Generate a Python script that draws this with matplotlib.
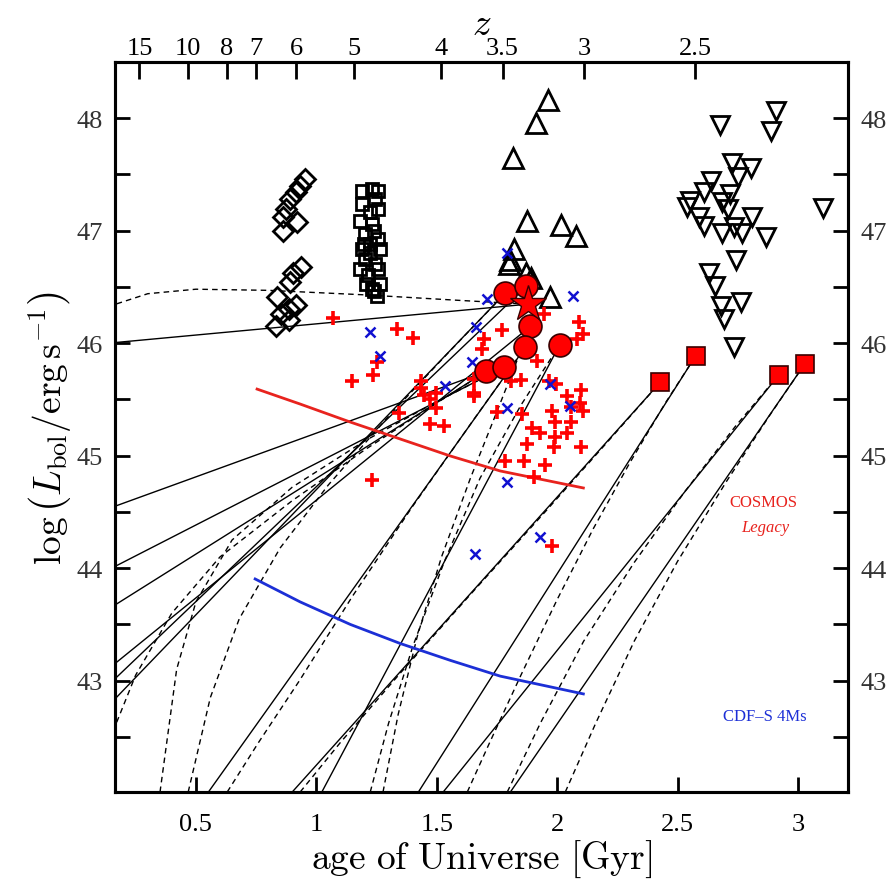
import numpy as np
import matplotlib
matplotlib.use("Agg")
import matplotlib.pyplot as plt
from matplotlib.ticker import FixedLocator, NullFormatter

plt.rcParams["font.family"] = ["Liberation Serif", "DejaVu Serif"]
plt.rcParams["mathtext.fontset"] = "cm"

# ---------------- data ----------------
# z ~ 6 quasars (open diamonds)
dia_age = [0.954, 0.933, 0.916, 0.892, 0.875, 0.862, 0.921, 0.862, 0.937, 0.904,
           0.892, 0.837, 0.916, 0.887, 0.854, 0.887, 0.833]
dia_L = [47.46, 47.40, 47.34, 47.28, 47.19, 47.12, 47.08, 47.00, 46.68, 46.62,
         46.54, 46.41, 46.34, 46.30, 46.26, 46.21, 46.15]

# z ~ 4.8 quasars (open squares)
sq_age = [1.191, 1.233, 1.258, 1.191, 1.245, 1.225, 1.258, 1.183, 1.233, 1.204,
          1.258, 1.191, 1.225, 1.266, 1.245, 1.183, 1.216, 1.266, 1.233, 1.250,
          1.204, 1.225, 1.241, 1.200, 1.258, 1.208, 1.241]
sq_L = [47.35, 47.37, 47.35, 47.24, 47.28, 47.17, 47.19, 47.09, 47.06, 46.97,
        46.93, 46.84, 46.80, 46.84, 46.70, 46.66, 46.61, 46.53, 46.48, 46.42,
        46.75, 46.88, 47.00, 46.88, 46.66, 46.53, 46.46]

# z ~ 3.3 quasars (open up-triangles)
tri_age = [1.964, 1.914, 1.817, 1.876, 2.017, 2.079, 1.822, 1.805, 1.800, 1.872,
           1.893, 1.972]
tri_L = [48.16, 47.955, 47.65, 47.085, 47.05, 46.95, 46.836, 46.74, 46.70, 46.62,
         46.58, 46.41]

# z ~ 2.4 quasars (open down-triangles)
itri_age = [2.907, 2.675, 2.889, 2.727, 2.806, 2.751, 2.637, 2.609, 2.720, 2.553,
            2.686, 2.540, 2.709, 2.589, 2.810, 2.609, 2.734, 2.686, 2.769, 2.866,
            3.106, 2.741, 2.630, 2.654, 2.679, 2.765, 2.692, 2.734]
itri_L = [48.065, 47.938, 47.887, 47.606, 47.556, 47.482, 47.443, 47.340, 47.325,
          47.265, 47.251, 47.207, 47.191, 47.118, 47.118, 47.043, 47.029, 46.984,
          46.978, 46.940, 47.198, 46.741, 46.623, 46.505, 46.333, 46.362, 46.214,
          45.963]

# COSMOS Legacy sources (red plus)
cl_age = [1.070, 1.234, 1.150, 1.254, 1.336, 1.403, 1.433, 1.436, 1.449, 1.474,
          1.498, 1.498, 1.474, 1.656, 1.655, 1.686, 1.695, 1.770, 1.947, 2.090,
          2.106, 2.083, 1.917, 1.810, 1.850, 1.965, 1.997, 2.042, 2.100, 2.097,
          1.855, 1.897, 1.978, 2.056, 2.107, 1.750, 1.990, 2.056, 1.930, 1.993,
          2.039, 1.875, 1.986, 2.099, 1.861, 1.951, 1.903, 1.785, 1.980, 1.654,
          1.532, 1.230, 1.345]
cl_L = [46.22, 45.72, 45.66, 45.83, 46.13, 46.05, 45.66, 45.60, 45.54, 45.50,
        45.42, 45.56, 45.28, 45.68, 45.53, 45.95, 46.04, 46.12, 46.26, 46.19,
        46.08, 46.04, 45.84, 45.66, 45.67, 45.66, 45.64, 45.53, 45.58, 45.47,
        45.37, 45.25, 45.40, 45.43, 45.40, 45.39, 45.30, 45.30, 45.20, 45.17,
        45.20, 45.10, 45.08, 45.08, 44.95, 44.92, 44.81, 44.95, 44.20, 45.56,
        45.26, 44.78, 45.38]

# CDF-S 4Ms sources (blue x)
cd_age = [1.224, 1.266, 1.536, 1.645, 1.663, 1.707, 1.790, 1.790, 1.972, 2.052,
          2.066, 1.790, 1.928, 1.660]
cd_L = [46.10, 45.89, 45.62, 45.83, 46.14, 46.39, 46.80, 45.42, 45.64, 45.44,
        46.42, 44.77, 44.28, 44.13]

# growth-track end points: circles, star and squares
circ_age = [1.785, 1.872, 1.889, 1.868, 2.010, 1.706, 1.778]
circ_L = [46.445, 46.505, 46.149, 45.963, 45.983, 45.749, 45.785]
star_age = [1.879]
star_L = [46.347]
rsq_age = [2.429, 2.575, 2.920, 3.028]
rsq_L = [45.654, 45.885, 45.716, 45.814]

# constant-rate growth tracks (solid): start point -> end point
solid_start_age = [0.171, 0.171, 0.171, 0.171, 0.171, 0.171, 0.171, 0.552, 1.023,
                   0.900, 1.424, 1.527, 1.806]
solid_start_L = [46.007, 44.556, 44.023, 43.682, 43.164, 43.031, 42.853, 42.01, 42.01,
                 42.01, 42.01, 42.01, 42.01]
solid_end_age = [1.879, 1.706, 1.778, 1.706, 1.889, 1.872, 1.785, 1.868, 2.010,
                 2.429, 2.575, 2.920, 3.028]
solid_end_L = [46.347, 45.749, 45.785, 45.749, 46.149, 46.505, 46.445, 45.963, 45.983,
               45.654, 45.885, 45.716, 45.814]

# alternative growth histories (dashed)
dashed_tracks = [
    ([0.171, 0.30, 0.50, 0.80, 1.20, 1.60, 1.879],
     [46.35, 46.44, 46.48, 46.47, 46.43, 46.38, 46.347]),
    ([0.171, 0.25, 0.40, 0.60, 0.90, 1.20, 1.45, 1.706],
     [42.63, 43.05, 43.60, 44.10, 44.60, 45.05, 45.40, 45.749]),
    ([0.351, 0.42, 0.50, 0.65, 0.90, 1.20, 1.50, 1.778],
     [42.01, 43.10, 43.70, 44.25, 44.72, 45.13, 45.48, 45.785]),
    ([0.468, 0.56, 0.68, 0.85, 1.05, 1.30, 1.55, 1.785],
     [42.01, 42.85, 43.55, 44.18, 44.74, 45.35, 45.92, 46.445]),
    ([0.630, 0.76, 0.93, 1.15, 1.40, 1.65, 1.868],
     [42.01, 42.45, 43.00, 43.75, 44.55, 45.31, 45.963]),
    ([1.277, 1.34, 1.42, 1.52, 1.64, 1.77, 1.889],
     [42.01, 42.70, 43.40, 44.10, 44.80, 45.50, 46.149]),
    ([1.224, 1.30, 1.40, 1.53, 1.68, 1.85, 2.010],
     [42.01, 42.62, 43.30, 44.05, 44.80, 45.45, 45.983]),
    ([0.933, 1.10, 1.35, 1.65, 1.95, 2.20, 2.429],
     [42.01, 42.45, 43.07, 43.79, 44.50, 45.10, 45.654]),
    ([1.627, 1.72, 1.85, 2.00, 2.15, 2.30, 2.45, 2.575],
     [42.01, 42.45, 43.05, 43.72, 44.35, 44.93, 45.47, 45.885]),
    ([1.793, 1.93, 2.11, 2.32, 2.53, 2.74, 2.920],
     [42.01, 42.62, 43.35, 44.05, 44.68, 45.26, 45.716]),
    ([2.034, 2.16, 2.32, 2.50, 2.70, 2.88, 3.028],
     [42.01, 42.62, 43.35, 44.06, 44.76, 45.35, 45.814]),
]

# survey flux limits
cosmos_age = [0.754, 0.933, 1.141, 1.349, 1.557, 1.764, 2.109]
cosmos_L = [45.592, 45.459, 45.299, 45.148, 44.997, 44.864, 44.713]
cdfs_age = [0.746, 0.933, 1.141, 1.349, 1.557, 1.764, 2.109]
cdfs_L = [43.904, 43.700, 43.500, 43.330, 43.180, 43.040, 42.882]

x_ticks = [0.5, 1, 1.5, 2, 2.5, 3]
y_ticks = [43, 44, 45, 46, 47, 48]
y_minor = [42.5, 43.5, 44.5, 45.5, 46.5, 47.5]
z_ticks = [15, 10, 8, 7, 6, 5, 4, 3.5, 3, 2.5]


def age_of_universe(z, h0=70.0, om=0.3):
    """Age (Gyr) of a flat LCDM universe at redshift z."""
    ol = 1.0 - om
    th = 977.8 / h0
    return (2.0 / (3.0 * np.sqrt(ol))) * th * np.arcsinh(
        np.sqrt(ol / om) * (1.0 + np.asarray(z, float)) ** -1.5)


# ---------------- figure ----------------
fig = plt.figure(figsize=(8.91, 8.87), dpi=100)
ax = fig.add_axes([115 / 891, 1 - 793 / 887, (848 - 115) / 891, (793 - 63) / 887])
xlim = (0.164, 3.208)
ylim = (42.01, 48.50)

for xs, ys in dashed_tracks:
    ax.plot(xs, ys, ls=(0, (4, 3)), color="k", lw=1.0, zorder=2)
for i in range(len(solid_start_age)):
    ax.plot([solid_start_age[i], solid_end_age[i]], [solid_start_L[i], solid_end_L[i]],
            color="k", lw=1.0, zorder=2)

ax.plot(cosmos_age, cosmos_L, color="#e8231e", lw=2.0, zorder=3)
ax.plot(cdfs_age, cdfs_L, color="#1c2fd6", lw=2.0, zorder=3)

ax.plot(dia_age, dia_L, ls="none", marker="D", ms=10, mfc="none", mec="k", mew=2.0, zorder=4)
ax.plot(sq_age, sq_L, ls="none", marker="s", ms=8.5, mfc="none", mec="k", mew=2.0, zorder=4)
ax.plot(tri_age, tri_L, ls="none", marker="^", ms=15, mfc="none", mec="k", mew=2.0, zorder=4)
ax.plot(itri_age, itri_L, ls="none", marker="v", ms=12.5, mfc="none", mec="k", mew=2.0,
        zorder=4)

ax.plot(cl_age, cl_L, ls="none", marker="+", ms=10, mec="#ff0000", mew=2.6, zorder=5)
ax.plot(cd_age, cd_L, ls="none", marker="x", ms=6.5, mec="#1010d0", mew=1.8, zorder=6)

ax.plot(circ_age, circ_L, ls="none", marker="o", ms=16.5, mfc="#ff0000", mec="#3a0000",
        mew=1.2, zorder=7)
ax.plot(star_age, star_L, ls="none", marker="*", ms=27, mfc="#ff0000", mec="#3a0000",
        mew=1.0, zorder=7)
ax.plot(rsq_age, rsq_L, ls="none", marker="s", ms=13, mfc="#ff0000", mec="#3a0000",
        mew=1.2, zorder=7)

ax.text(2.857, 44.59, "COSMOS", color="#e8231e", fontsize=12, ha="center", va="center")
ax.text(2.866, 44.37, "Legacy", color="#e8231e", fontsize=12, ha="center", va="center",
        style="italic")
ax.text(2.862, 42.69, "CDF\u2013S 4Ms", color="#1c2fd6", fontsize=12, ha="center",
        va="center")

ax.set_xlim(*xlim)
ax.set_ylim(*ylim)
ax.xaxis.set_major_locator(FixedLocator(x_ticks))
ax.set_xticklabels([f"{t:g}" for t in x_ticks])
ax.yaxis.set_major_locator(FixedLocator(y_ticks))
ax.yaxis.set_minor_locator(FixedLocator(y_minor))
ax.yaxis.set_minor_formatter(NullFormatter())
ax.tick_params(axis="both", which="both", direction="in", width=2.0, labelsize=19,
               colors="k")
ax.tick_params(axis="y", which="both", length=11, right=True, labelright=True, pad=9)
ax.tick_params(axis="x", which="both", length=11, top=False, pad=15)
for lab in ax.get_yticklabels():
    lab.set_color("#333333")
for s in ax.spines.values():
    s.set_linewidth(2.2)

ax.set_xlabel(r"$\mathrm{age\ of\ Universe\ [Gyr]}$", fontsize=27, labelpad=2)
ax.set_ylabel(r"$\log\left(L_{\rm bol}/{\rm erg\,s^{-1}}\right)$", fontsize=27, labelpad=2)

top = ax.twiny()
top.set_xlim(*xlim)
top.set_xticks(age_of_universe(z_ticks))
top.set_xticklabels([f"{z:g}" for z in z_ticks])
top.tick_params(axis="x", direction="in", length=12, width=2.0, labelsize=19, pad=2)
top.set_xlabel(r"$z$", fontsize=27, labelpad=2)
for s in top.spines.values():
    s.set_linewidth(2.2)

fig.savefig("out.png", dpi=100)
